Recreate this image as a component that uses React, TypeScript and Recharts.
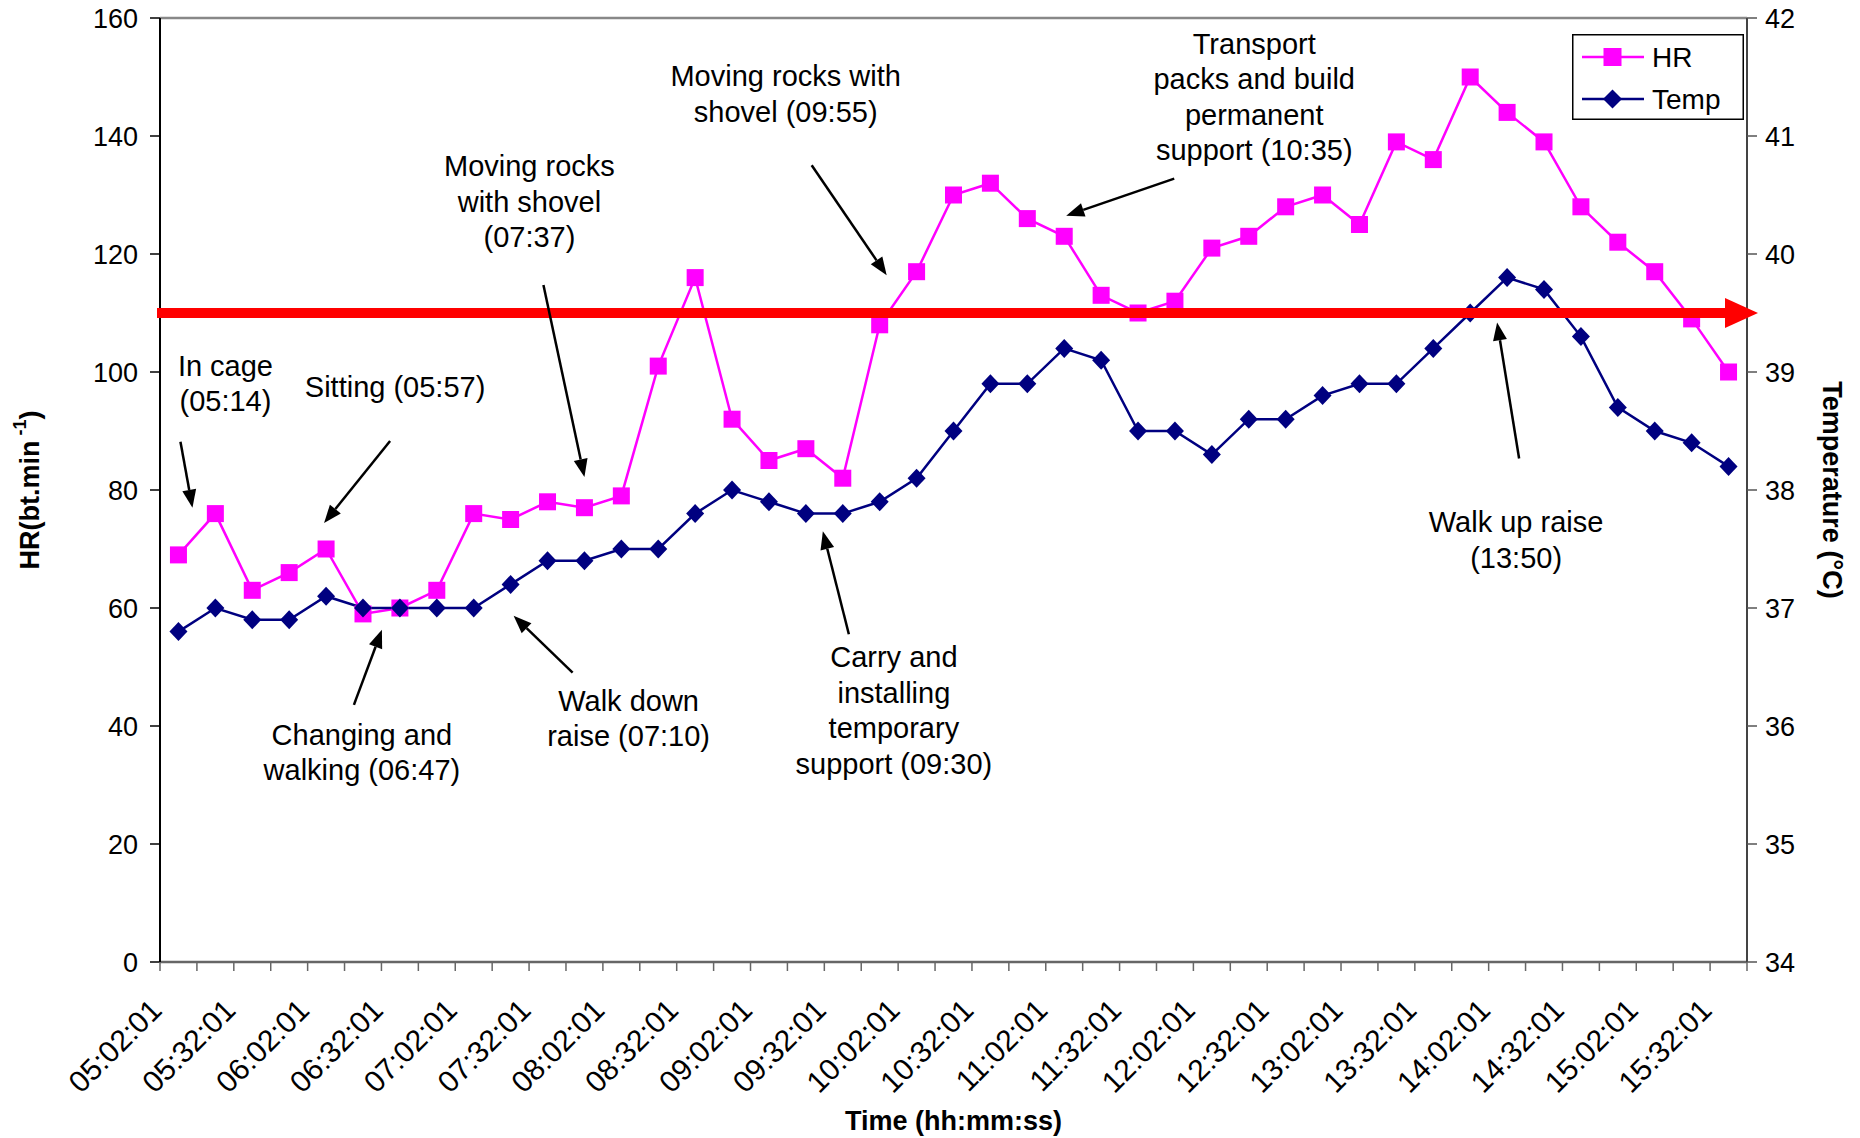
import React from 'react';
import {
  ComposedChart, Line, XAxis, YAxis,
  ReferenceLine, ReferenceDot, Legend,
} from 'recharts';

// 15-minute samples, 05:02:01 .. 15:32:01
const TIMES = [
  '05:02:01', '05:17:01', '05:32:01', '05:47:01', '06:02:01', '06:17:01', '06:32:01', '06:47:01',
  '07:02:01', '07:17:01', '07:32:01', '07:47:01', '08:02:01', '08:17:01', '08:32:01', '08:47:01',
  '09:02:01', '09:17:01', '09:32:01', '09:47:01', '10:02:01', '10:17:01', '10:32:01', '10:47:01',
  '11:02:01', '11:17:01', '11:32:01', '11:47:01', '12:02:01', '12:17:01', '12:32:01', '12:47:01',
  '13:02:01', '13:17:01', '13:32:01', '13:47:01', '14:02:01', '14:17:01', '14:32:01', '14:47:01',
  '15:02:01', '15:17:01', '15:32:01',
];

const HR = [
  69, 76, 63, 66, 70, 59, 60, 63, 76, 75, 78, 77, 79, 101, 116, 92,
  85, 87, 82, 108, 117, 130, 132, 126, 123, 113, 110, 112, 121, 123, 128, 130,
  125, 139, 136, 150, 144, 139, 128, 122, 117, 109, 100,
];

const TEMP = [
  36.8, 37.0, 36.9, 36.9, 37.1, 37.0, 37.0, 37.0, 37.0, 37.2, 37.4, 37.4, 37.5, 37.5, 37.8, 38.0,
  37.9, 37.8, 37.8, 37.9, 38.1, 38.5, 38.9, 38.9, 39.2, 39.1, 38.5, 38.5, 38.3, 38.6, 38.6, 38.8,
  38.9, 38.9, 39.2, 39.5, 39.8, 39.7, 39.3, 38.7, 38.5, 38.4, 38.2,
];

const HR_TICKS = [0, 20, 40, 60, 80, 100, 120, 140, 160];
const TEMP_TICKS = [34, 35, 36, 37, 38, 39, 40, 41, 42];
const TEMP_LIMIT = 39.5;

// activity notes, anchored on the HR scale at a sample time
const NOTES = [
  { at: '05:02:01', hr: 77, lines: ['In cage', '(05:14)'] },
  { at: '06:02:01', hr: 74.4, lines: ['Sitting (05:57)'] },
  { at: '07:47:01', hr: 82.2, lines: ['Moving rocks', 'with shovel', '(07:37)'] },
  { at: '09:47:01', hr: 116.4, lines: ['Moving rocks with', 'shovel (09:55)'] },
  { at: '11:02:01', hr: 126.5, lines: ['Transport', 'packs and build', 'permanent', 'support (10:35)'] },
  { at: '06:32:01', hr: 56.3, lines: ['Changing and', 'walking (06:47)'] },
  { at: '07:17:01', hr: 58.7, lines: ['Walk down', 'raise (07:10)'] },
  { at: '09:17:01', hr: 73, lines: ['Carry and', 'installing', 'temporary', 'support (09:30)'] },
  { at: '14:02:01', hr: 108.4, lines: ['Walk up raise', '(13:50)'] },
];

// pixel offsets from the anchor: arrow tip dx, arrow tail, text block centre (first line)
const NOTE_LAYOUT = [
  { tip: 14, tail: [2, -66], text: [47, -142] },
  { tip: -2, tail: [64, -82], text: [69, -136] },
  { tip: 0, tail: [-41, -192], text: [-55, -311] },
  { tip: 7, tail: [-68, -110], text: [-94, -199] },
  { tip: 2, tail: [110, -37], text: [190, -172] },
  { tip: -18, tail: [-46, 75], text: [-38, 105] },
  { tip: 3, tail: [62, 57], text: [118, 85] },
  { tip: 17, tail: [43, 103], text: [88, 126] },
  { tip: -10, tail: [12, 136], text: [9, 200] },
];

const W = 1860;
const H = 1138;
const LEFT_W = 160;
const RIGHT_W = 113;
const X_H = 176;
const HALF_BAND = (W - LEFT_W - RIGHT_W) / TIMES.length / 2;

const FONT = '"Liberation Sans", Arial, sans-serif';
const HR_COLOR = '#ff00ff';
const TEMP_COLOR = '#000080';
const AXIS_GREY = '#666';

const data = TIMES.map((t, i) => ({ time: t, hr: HR[i], temp: TEMP[i] }));

// tick marks sit between categories (Excel style), labels on every other sample
function TimeTick(props: any) {
  const { x, y, payload } = props;
  const i = payload?.index ?? props.index;
  const half = HALF_BAND;
  const lx = x - 15;
  const ly = y + 50;
  return (
    <g>
      <line x1={x - half} y1={y} x2={x - half} y2={y + 9} stroke={AXIS_GREY} strokeWidth={1.5} />
      {i === TIMES.length - 1 && (
        <line x1={x + half} y1={y} x2={x + half} y2={y + 9} stroke={AXIS_GREY} strokeWidth={1.5} />
      )}
      {i % 2 === 0 && (
        <text
          x={lx}
          y={ly}
          transform={`rotate(-45, ${lx}, ${ly})`}
          textAnchor="end"
          fontSize={30}
          fill="#000"
        >
          {payload.value}
        </text>
      )}
    </g>
  );
}

function LeftTitle(props: any) {
  const vb = props.viewBox || { x: 0, y: 18, width: LEFT_W, height: 944 };
  const cx = vb.x + 30;
  const cy = vb.y + vb.height / 2;
  return (
    <text
      x={cx}
      y={cy}
      transform={`rotate(-90, ${cx}, ${cy})`}
      textAnchor="middle"
      dominantBaseline="central"
      fontSize={27}
      fontWeight="bold"
      fill="#000"
    >
      HR(bt.min
      <tspan dy={-10} fontSize={18}> -1</tspan>
      <tspan dy={10}>)</tspan>
    </text>
  );
}

function RightTitle(props: any) {
  const vb = props.viewBox || { x: W - RIGHT_W, y: 18, width: RIGHT_W, height: 944 };
  const cx = vb.x + 85;
  const cy = vb.y + vb.height / 2;
  return (
    <text
      x={cx}
      y={cy}
      transform={`rotate(90, ${cx}, ${cy})`}
      textAnchor="middle"
      dominantBaseline="central"
      fontSize={27}
      fontWeight="bold"
      fill="#000"
    >
      Temperature  (°C)
    </text>
  );
}

function SquareDot(p: any) {
  if (p.cx == null || p.cy == null) return <g key={`s${p.index}`} />;
  return <rect key={`s${p.index}`} x={p.cx - 8.5} y={p.cy - 8.5} width={17} height={17} fill={HR_COLOR} />;
}

function DiamondDot(p: any) {
  if (p.cx == null || p.cy == null) return <g key={`d${p.index}`} />;
  const { cx, cy } = p;
  return (
    <path
      key={`d${p.index}`}
      d={`M${cx},${cy - 9.5} L${cx + 9},${cy} L${cx},${cy + 9.5} L${cx - 9},${cy} Z`}
      fill={TEMP_COLOR}
    />
  );
}

function ThresholdArrow(props: any) {
  const left = Math.min(props.x1, props.x2);
  const right = Math.max(props.x1, props.x2);
  const y = props.y1;
  return (
    <g>
      <line x1={left - 3} y1={y} x2={right - 18} y2={y} stroke="#ff0000" strokeWidth={10} />
      <polygon points={`${right - 22},${y - 15} ${right + 11},${y} ${right - 22},${y + 15}`} fill="#ff0000" />
    </g>
  );
}

function Arrow({ x1, y1, x2, y2 }: { x1: number; y1: number; x2: number; y2: number }) {
  const ang = Math.atan2(y2 - y1, x2 - x1);
  const len = 18;
  const wid = 7;
  const bx = x2 - len * Math.cos(ang);
  const by = y2 - len * Math.sin(ang);
  const px = -Math.sin(ang) * wid;
  const py = Math.cos(ang) * wid;
  return (
    <g>
      <line x1={x1} y1={y1} x2={bx} y2={by} stroke="#000" strokeWidth={2.5} />
      <polygon points={`${x2},${y2} ${bx + px},${by + py} ${bx - px},${by - py}`} fill="#000" />
    </g>
  );
}

function makeNote(i: number) {
  return (p: any) => {
    const lay = NOTE_LAYOUT[i];
    const { cx, cy } = p;
    if (cx == null || cy == null) return <g />;
    const tx = cx + lay.tip;
    return (
      <g>
        <Arrow x1={cx + lay.tail[0]} y1={cy + lay.tail[1]} x2={tx} y2={cy} />
        <text textAnchor="middle" fontSize={29} fill="#000">
          {NOTES[i].lines.map((l, k) => (
            <tspan key={k} x={cx + lay.text[0]} y={cy + lay.text[1] + k * 35.5} dominantBaseline="central">
              {l}
            </tspan>
          ))}
        </text>
      </g>
    );
  };
}

function LegendBox() {
  return (
    <svg width={172} height={86} style={{ display: 'block', fontFamily: FONT }}>
      <rect x={0.75} y={0.75} width={170.5} height={84.5} fill="#fff" stroke="#000" strokeWidth={1.5} />
      <line x1={10} y1={23} x2={72} y2={23} stroke={HR_COLOR} strokeWidth={2.5} />
      <rect x={31.5} y={14} width={18} height={18} fill={HR_COLOR} />
      <text x={80} y={23} dominantBaseline="central" fontSize={28} fill="#000">HR</text>
      <line x1={10} y1={65} x2={72} y2={65} stroke={TEMP_COLOR} strokeWidth={2.5} />
      <path d="M40.5,55.5 L50,65 L40.5,74.5 L31,65 Z" fill={TEMP_COLOR} />
      <text x={80} y={65} dominantBaseline="central" fontSize={28} fill="#000">Temp</text>
    </svg>
  );
}

export default function App() {
  return (
    <div style={{ position: 'absolute', left: 0, top: 0, width: W, height: H, background: '#fff' }}>
      <ComposedChart
        width={W}
        height={H}
        data={data}
        margin={{ top: 18, right: 0, bottom: 0, left: 0 }}
        style={{ fontFamily: FONT }}
      >
        <XAxis
          dataKey="time"
          type="category"
          height={X_H}
          interval={0}
          padding={{ left: HALF_BAND, right: HALF_BAND }}
          tickSize={0}
          tickMargin={0}
          tickLine={false}
          tick={<TimeTick />}
          axisLine={{ stroke: AXIS_GREY, strokeWidth: 2.5 }}
          label={{
            value: 'Time (hh:mm:ss)',
            position: 'insideBottom',
            offset: 8,
            fontSize: 27,
            fontWeight: 'bold',
            fill: '#000',
          }}
        />
        <YAxis
          yAxisId="hr"
          orientation="left"
          width={LEFT_W}
          domain={[0, 160]}
          ticks={HR_TICKS}
          interval={0}
          allowDataOverflow
          tick={{ fill: '#000', fontSize: 27 }}
          tickSize={10}
          tickMargin={12}
          tickLine={{ stroke: '#000', strokeWidth: 1.5 }}
          axisLine={{ stroke: '#000', strokeWidth: 2 }}
          label={<LeftTitle />}
        />
        <YAxis
          yAxisId="temp"
          orientation="right"
          width={RIGHT_W}
          domain={[34, 42]}
          ticks={TEMP_TICKS}
          interval={0}
          allowDataOverflow
          tick={{ fill: '#000', fontSize: 27 }}
          tickSize={10}
          tickMargin={8}
          tickLine={{ stroke: '#555', strokeWidth: 1.5 }}
          axisLine={{ stroke: '#444', strokeWidth: 2 }}
          label={<RightTitle />}
        />

        {/* plot area top border */}
        <ReferenceLine yAxisId="hr" y={160} stroke="#888" strokeWidth={2.5} />

        <Line
          yAxisId="hr"
          dataKey="hr"
          name="HR"
          stroke={HR_COLOR}
          strokeWidth={2.5}
          dot={SquareDot}
          activeDot={false}
          isAnimationActive={false}
        />
        <Line
          yAxisId="temp"
          dataKey="temp"
          name="Temp"
          stroke={TEMP_COLOR}
          strokeWidth={2.5}
          dot={DiamondDot}
          activeDot={false}
          isAnimationActive={false}
        />

        {/* 39.5 °C limit */}
        <ReferenceLine yAxisId="temp" y={TEMP_LIMIT} shape={ThresholdArrow} zIndex={1500} />

        {NOTES.map((n, i) => (
          <ReferenceDot
            key={n.at + i}
            x={n.at}
            y={n.hr}
            yAxisId="hr"
            r={0}
            shape={makeNote(i)}
            zIndex={1600}
          />
        ))}

        <Legend
          layout="vertical"
          align="center"
          verticalAlign="middle"
          wrapperStyle={{ left: 1572, top: 34, width: 172, height: 86 }}
          content={() => <LegendBox />}
        />
      </ComposedChart>
    </div>
  );
}
